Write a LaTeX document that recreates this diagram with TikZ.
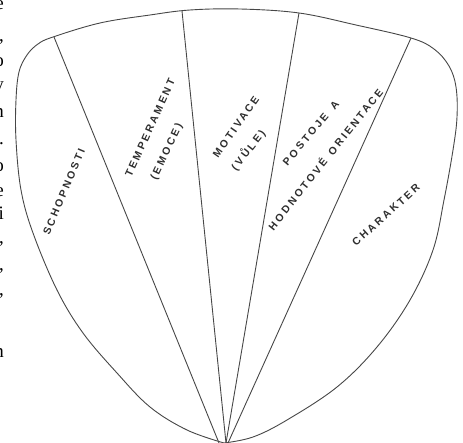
\documentclass[tikz,border=0pt]{standalone}
\usepackage{fontspec}
\setmainfont{Liberation Serif}
\newfontfamily\hand[LetterSpace=24]{Liberation Sans}
\begin{document}
\begin{tikzpicture}[x=1pt,y=-1pt,
  outline/.style={draw=black!72, line width=0.9pt, line join=round},
  divider/.style={draw=black!72, line width=0.9pt},
  lbl/.style={text=black!82, font=\hand\bfseries\fontsize{10.5}{11}\selectfont, inner sep=0pt},
  frag/.style={text=black, font=\fontsize{19}{19}\selectfont, inner sep=0pt, anchor=base east}]
\useasboundingbox (0,0) rectangle (463,443);
% outer shape
\draw[outline] plot[smooth, tension=0.6] coordinates {
  (224,443) (187,430) (150,407) (117,373) (83,333) (57,290) (33,233)
  (21,190) (16,140) (16,100) (19,72) (27,55) (38,44) (53,37)
  (100,23) (150,15) (190,10) (240,9) (299,13) (356,25) (411,38)
  (434,49) (449,66) (456,87) (457,117) (453,150) (444,200) (433,250)
  (410,300) (377,347) (337,387) (287,420) (253,437) (224,443)};
% radial dividers
\coordinate (t1) at (54,37);
\coordinate (t2) at (182,11);
\coordinate (t3) at (299,13);
\coordinate (t4) at (411,38);
\coordinate (b1) at (219,443);
\coordinate (b2) at (226,443);
\coordinate (b3) at (226,443);
\coordinate (b4) at (228,443);
\draw[divider] (t1) -- (b1);
\draw[divider] (t2) -- (b2);
\draw[divider] (t3) -- (b3);
\draw[divider] (t4) -- (b4);
% labels
\node[lbl, rotate=67] (l1) at (64,192) {SCHOPNOSTI};
\node[lbl, rotate=65.5] (l2a) at (150,128) {TEMPERAMENT};
\node[lbl, rotate=64.5] (l2b) at (167,152) {(EMOCE)};
\node[lbl, rotate=55] (l3a) at (236,127) {MOTIVACE};
\node[lbl, rotate=52] (l3b) at (248,150) {(VŮLE)};
\node[lbl, rotate=50] (l4a) at (311,133) {POSTOJE\hspace{9pt}A};
\node[lbl, rotate=51.5] (l4b) at (325,159) {HODNOTOVÉ\hspace{8pt}ORIENTACE};
\node[lbl, rotate=42] (l5) at (386,215) {CHARAKTER};
% cropped letters of neighbouring text at left edge
\begin{scope}
\clip (0,0) rectangle (463,443);
\node[frag] (f1) at (4,10) {e};
\node[frag] (f2) at (4,42) {,};
\node[frag] (f3) at (4,67) {o};
\node[frag] (f4) at (4,91) {y};
\node[frag] (f5) at (4,118) {n};
\node[frag] (f6) at (4,145) {.};
\node[frag] (f7) at (4,172) {o};
\node[frag] (f8) at (4,197) {e};
\node[frag] (f9) at (4,220) {i};
\node[frag] (f10) at (4,244) {,};
\node[frag] (f11) at (4,271) {,};
\node[frag] (f12) at (4,296) {,};
\node[frag] (f13) at (4,358) {n};
\end{scope}
\end{tikzpicture}
\end{document}
